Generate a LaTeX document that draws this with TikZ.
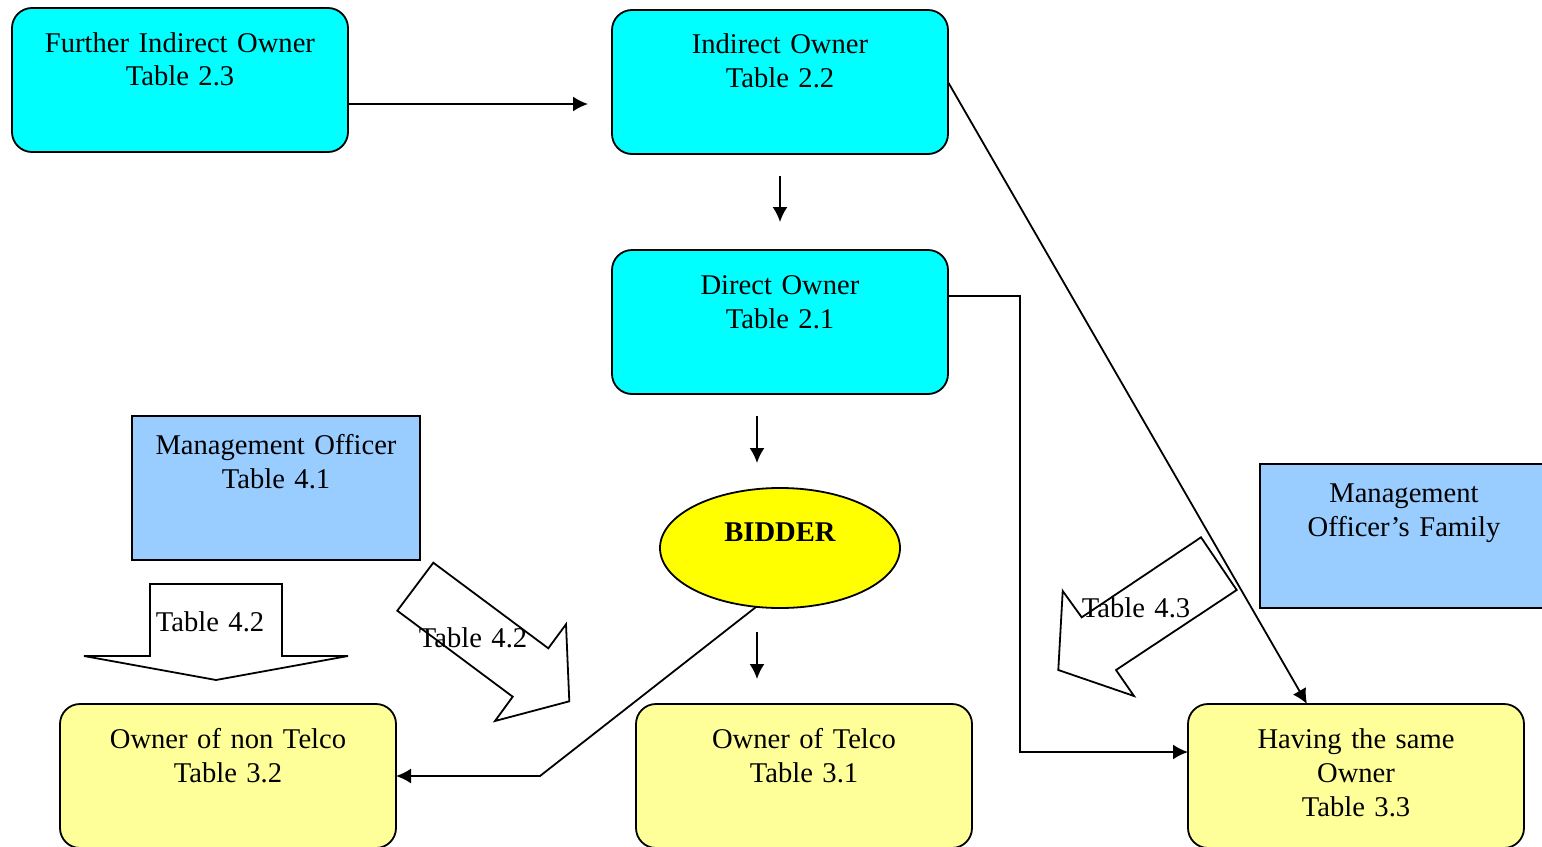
\documentclass[tikz,border=0pt]{standalone}
\usepackage{fontspec}
\setmainfont{Liberation Serif}
\usetikzlibrary{arrows.meta,shapes.geometric}
\definecolor{cyanbox}{HTML}{00FFFF}
\definecolor{bluebox}{HTML}{99CCFF}
\definecolor{ylwbox}{HTML}{FFFF99}
\definecolor{bidderfill}{HTML}{FFFF00}
\begin{document}
\begin{tikzpicture}[x=0.5pt,y=-0.5pt,
  line width=0.9pt,
  rbox/.style={draw, rounded corners=10pt, minimum width=168pt, minimum height=72pt, inner sep=0pt, outer sep=0pt, anchor=north west},
  sbox/.style={draw, fill=bluebox, minimum width=144pt, minimum height=72pt, inner sep=0pt, outer sep=0pt, anchor=north west},
  txt/.style={anchor=base, inner sep=0pt, text width=160pt, align=center, font=\fontsize{14.3}{17}\selectfont},
  conn/.style={-{Latex[length=7.5pt,width=7.5pt]}},
  blk/.style={draw, fill=white, line join=miter}
]
\clip (0,0) rectangle (1542,846);
\fill[white] (0,0) rectangle (1542,846);

% boxes
\node[rbox, fill=cyanbox] (fio) at (12,8) {};
\node[rbox, fill=cyanbox] (io) at (612,10) {};
\node[rbox, fill=cyanbox] (do) at (612,250) {};
\node[sbox] (mo) at (132,416) {};
\node[sbox] (mof) at (1260,464) {};
\node[rbox, fill=ylwbox] (ont) at (60,704) {};
\node[rbox, fill=ylwbox] (ot) at (636,704) {};
\node[rbox, fill=ylwbox] (hso) at (1188,704) {};
\node[draw, ellipse, fill=bidderfill, minimum width=120pt, minimum height=60pt, inner sep=0pt, outer sep=0pt] (bid) at (780,548) {};

% texts
\node[txt] (fiot) at (180,52) {Further Indirect Owner\\Table 2.3};
\node[txt] (iot) at (780,54) {Indirect Owner\\Table 2.2};
\node[txt] (dot) at (780,294) {Direct Owner\\Table 2.1};
\node[txt] (mot) at (276,454) {Management Officer\\Table 4.1};
\node[txt] (moft) at (1404,502) {Management\\Officer’s Family};
\node[txt] (ontt) at (228,748) {Owner of non Telco\\Table 3.2};
\node[txt] (ott) at (804,748) {Owner of Telco\\Table 3.1};
\node[txt] (hsot) at (1356,748) {Having the same\\Owner\\Table 3.3};
\node[anchor=base, inner sep=0pt, font=\bfseries\fontsize{14.3}{17}\selectfont] (bidt) at (780,541) {BIDDER};

% block arrows
\draw[blk] (150,584) -- (282,584) -- (282,656) -- (348,656) -- (216,680) -- (84,656) -- (150,656) -- cycle;
\draw[blk] (433.3,562.7) -- (397.3,610.7) -- (512.7,696.7) -- (495,721) -- (569.3,701.3) -- (566,624.3) -- (548.3,648.3) -- cycle;
\draw[blk] (1201,537.3) -- (1236.7,590) -- (1116,670) -- (1134,696) -- (1058.3,670) -- (1062.7,591) -- (1081.7,617.3) -- cycle;
\node[txt] (l42a) at (210,631) {Table 4.2};
\node[txt] (l42b) at (473,647) {Table 4.2};
\node[txt] (l43) at (1136,617) {Table 4.3};

% free-standing coordinates
\coordinate (c1) at (588,104);
\coordinate (a1) at (780,176);
\coordinate (a2) at (780,222);
\coordinate (b1) at (757,416);
\coordinate (b2) at (757,463);
\coordinate (d1) at (757,632);
\coordinate (d2) at (757,679);
\coordinate (k1) at (540,776);
\coordinate (k2) at (1020,296);
\coordinate (k3) at (1020,752);

% connectors
\draw[conn] ([yshift=-12pt]fio.east) -- (c1);
\draw[conn] (a1) -- (a2);
\draw[conn] (b1) -- (b2);
\draw[conn] (d1) -- (d2);
\draw[conn] (bid.248.7) -- (k1) -- (ont.east);
\draw[conn] (io.east) -- ([xshift=-24.5pt]hso.north);
\draw[conn] ([yshift=13pt]do.east) -- (k2) -- (k3) -- ([yshift=12pt]hso.west);
\end{tikzpicture}
\end{document}
